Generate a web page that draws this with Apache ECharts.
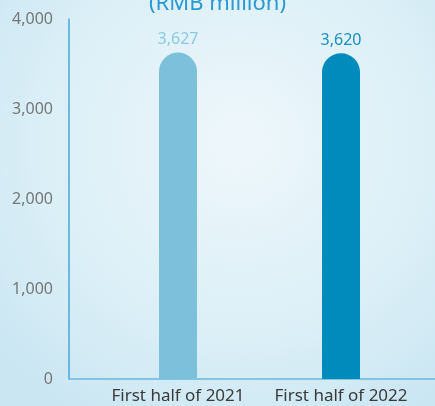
<!DOCTYPE html>
<html><head><meta charset="utf-8">
<script src="https://cdn.jsdelivr.net/npm/echarts@6/dist/echarts.min.js"></script>
<style>html,body{margin:0;padding:0;}#c{width:435px;height:406px;}</style>
</head><body><div id="c"></div>
<script>
const categories = ['First half of 2021', 'First half of 2022'];
const values = [3627, 3620];
const barColors = ['#7cc0dc', '#008bbd'];
const labelColors = ['#8ccae2', '#1a8fc2'];
const yTicks = [0, 1000, 2000, 3000, 4000];
const titleText = '(RMB million)';

const chart = echarts.init(document.getElementById('c'));
const font = '"Noto Sans", sans-serif';
chart.setOption({
  backgroundColor: {
    type: 'radial', x: 0.55, y: 0.35, r: 0.8,
    colorStops: [{offset: 0, color: '#eef7fb'}, {offset: 0.6, color: '#dbeff7'}, {offset: 1, color: '#c9e6f2'}]
  },
  title: {
    text: titleText, left: 'center', top: -12,
    textStyle: {color: '#2a9ad0', fontSize: 22, fontWeight: 'normal', fontFamily: font}
  },
  grid: [
    {left: 69, right: 0, top: 19, bottom: 27},
    {left: 96.5, right: 12.5, top: 19, bottom: 27}
  ],
  xAxis: [
    {gridIndex: 0, type: 'value', min: 0, max: 1, axisLine: {show: true, lineStyle: {color: '#6ab8dc', width: 1.5}},
     axisTick: {show: false}, axisLabel: {show: false}, splitLine: {show: false}},
    {gridIndex: 1, type: 'category', data: categories, axisLine: {show: false}, axisTick: {show: false},
     axisLabel: {color: '#3a3a3a', fontSize: 17, margin: 9, fontFamily: font, interval: 0, hideOverlap: false}}
  ],
  yAxis: [
    {gridIndex: 0, type: 'value', min: yTicks[0], max: yTicks[yTicks.length - 1], interval: 1000,
     axisLine: {show: true, lineStyle: {color: '#4aa6d4', width: 1.5}}, axisTick: {show: false},
     splitLine: {show: false},
     axisLabel: {color: '#777777', fontSize: 16, margin: 16, fontFamily: font,
       formatter: v => v.toLocaleString('en-US')}},
    {gridIndex: 1, type: 'value', min: yTicks[0], max: yTicks[yTicks.length - 1], show: false}
  ],
  series: [{
    type: 'bar', xAxisIndex: 1, yAxisIndex: 1, barWidth: 38,
    data: values.map((v, i) => ({
      value: v,
      itemStyle: {color: barColors[i], borderRadius: [19, 19, 0, 0]},
      label: {color: labelColors[i]}
    })),
    label: {show: true, position: 'top', distance: 5, fontSize: 16, fontFamily: font,
      formatter: p => p.value.toLocaleString('en-US')}
  }]
});
</script></body></html>
